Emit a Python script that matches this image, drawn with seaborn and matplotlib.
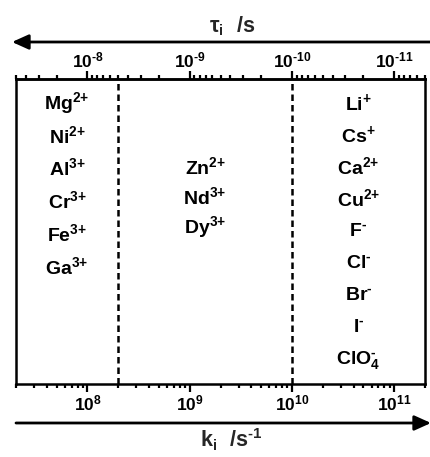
import matplotlib
matplotlib.use("Agg")
import matplotlib.pyplot as plt
import seaborn as sns
import numpy as np
from matplotlib.ticker import FuncFormatter, LogLocator
from matplotlib.patches import FancyArrowPatch

# Rate-constant bands (k_i in s^-1): left edge, two dividers, right edge
band_edges = [2e7, 2e8, 1e10, 2e11]

# Ions grouped by the band of their water-exchange rate constant
slow_ions = ["Mg", "Ni", "Al", "Cr", "Fe", "Ga"]
slow_charges = ["2+", "2+", "3+", "3+", "3+", "3+"]

mid_ions = ["Zn", "Nd", "Dy"]
mid_charges = ["2+", "3+", "3+"]

fast_ions = ["Li", "Cs", "Ca", "Cu", "F", "Cl", "Br", "I", "ClO_4"]
fast_charges = ["+", "+", "2+", "2+", "-", "-", "-", "-", "-"]

k_major_exponents = [8, 9, 10, 11]
tau_major_exponents = [-8, -9, -10, -11]

HYPHEN = "\u2010"  # short hyphen instead of mathtext's wide minus sign

sns.set_theme(style="ticks")
plt.rcParams.update({
    "font.family": ["Liberation Sans", "DejaVu Sans"],
    "font.weight": "bold",
    "mathtext.fontset": "custom",
    "mathtext.rm": "Liberation Sans",
    "mathtext.bf": "Liberation Sans:bold",
    "mathtext.it": "Liberation Sans:italic",
    "mathtext.default": "bf",
    "axes.edgecolor": "black",
    "axes.linewidth": 1.8,
    "xtick.color": "black",
})

W, H = 431, 457
fig = plt.figure(figsize=(W / 100, H / 100), dpi=100)
ax = fig.add_axes([16 / W, (H - 384) / H, 409 / W, 305 / H])

ax.set_xscale("log")
ax.set_xlim(band_edges[0], band_edges[-1])
ax.set_ylim(9.5, 0)
ax.set_yticks([])

# Band dividers
for edge in band_edges[1:-1]:
    ax.axvline(edge, color="black", lw=1.8, ls=(0, (2.6, 1.6)))


def ion_label(sym, charge):
    charge = charge.replace("-", HYPHEN).replace("+", "{+}")
    return r"$%s^{%s}$" % (sym, charge)


def place_group(ions, charges, k_lo, k_hi, first_row, step=1.0):
    x = np.sqrt(k_lo * k_hi)
    for i, (s, c) in enumerate(zip(ions, charges)):
        ax.text(x, first_row + i * step, ion_label(s, c), ha="center",
                va="center", fontsize=14, color="black")


place_group(slow_ions, slow_charges, band_edges[0], band_edges[1], 0.75, 1.02)
place_group(mid_ions, mid_charges, band_edges[1], band_edges[2], 2.75, 0.93)
place_group(fast_ions, fast_charges, band_edges[2], band_edges[3], 0.75)


def power_label(allowed):
    def fmt(v, pos):
        e = int(round(np.log10(v)))
        if e not in allowed:
            return ""
        return r"$10^{%s}$" % str(e).replace("-", HYPHEN)
    return FuncFormatter(fmt)


# Bottom axis: rate constant k
ax.xaxis.set_major_locator(LogLocator(base=10))
ax.xaxis.set_minor_locator(LogLocator(base=10, subs=np.arange(2, 10)))
ax.xaxis.set_major_formatter(power_label(k_major_exponents))
ax.tick_params(axis="x", which="major", direction="out", length=6, width=1.6,
               labelsize=12.5, pad=1, bottom=True)
ax.tick_params(axis="x", which="minor", direction="out", length=3, width=1.6,
               bottom=True)

# Top axis: relaxation time tau = 1/k
sec = ax.secondary_xaxis("top", functions=(lambda k: 1.0 / k, lambda t: 1.0 / t))
sec.xaxis.set_major_locator(LogLocator(base=10))
sec.xaxis.set_minor_locator(LogLocator(base=10, subs=np.arange(2, 10)))
sec.xaxis.set_major_formatter(power_label(tau_major_exponents))
sec.tick_params(axis="x", which="major", direction="out", length=6, width=1.6,
                labelsize=12.5, pad=0)
sec.tick_params(axis="x", which="minor", direction="out", length=3, width=1.6)
sec.spines["top"].set_linewidth(1.8)

# Direction arrows and axis titles
arrow_kw = dict(arrowstyle="-|>,head_length=1.0,head_width=0.45",
                mutation_scale=10, lw=2, color="black",
                shrinkA=0, shrinkB=0, transform=fig.transFigure)
fig.add_artist(FancyArrowPatch((1.0, (H - 42) / H), (12 / W, (H - 42) / H),
                               **arrow_kw))
fig.add_artist(FancyArrowPatch((16 / W, 34 / H), (1.0, 34 / H), **arrow_kw))

fig.text(232 / W, (H - 26) / H, r"$\mathrm{\tau}_{i}\ \ /s$", ha="center",
         va="center", fontsize=15.5)
fig.text(231 / W, (H - 440) / H, r"$k_{i}\ \ /s^{%s1}$" % HYPHEN, ha="center",
         va="center", fontsize=15.5)

fig.savefig("out.png", dpi=100)
